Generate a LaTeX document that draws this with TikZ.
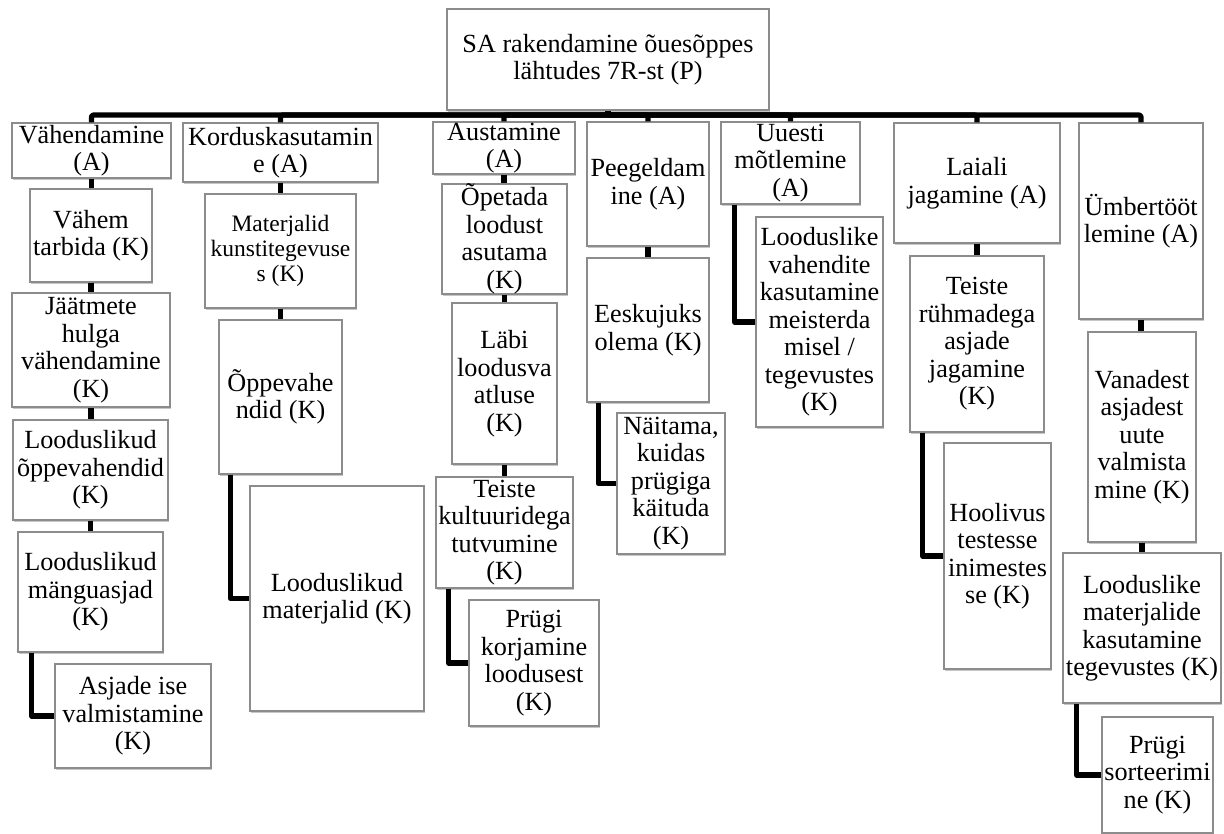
\documentclass[tikz,border=0pt]{standalone}
\usepackage{fontspec}
\setmainfont{Liberation Serif}
\usetikzlibrary{shadows}
\tikzset{
  bx/.style={draw=black!45, line width=1.1pt, fill=white, rectangle, inner sep=0pt, align=center,
    font=\fontsize{26.2}{27.5}\selectfont,
    drop shadow={shadow xshift=1.2pt, shadow yshift=-1.6pt, fill=black, opacity=0.22}},
  conn/.style={line width=5.2pt, black, line join=round, line cap=round},
}
\begin{document}
\begin{tikzpicture}[x=1pt,y=-1pt]
\clip (0,0) rectangle (1224,833);
\fill[white] (0,0) rectangle (1224,833);
\coordinate (bus) at (608,115);
% boxes
\node[bx, minimum width=322pt, minimum height=101pt] (top) at (608,59.5) {SA rakendamine õuesõppes\\lähtudes 7R-st (P)};
% column 1
\node[bx, minimum width=159pt, minimum height=55pt] (a1) at (91.5,150.5) {Vähendamine\\(A)};
\node[bx, minimum width=122pt, minimum height=93pt] (k11) at (91,235.5) {Vähem\\tarbida (K)};
\node[bx, minimum width=158pt, minimum height=114pt] (k12) at (91,350) {Jäätmete\\hulga\\vähendamine\\(K)};
\node[bx, minimum width=155pt, minimum height=100pt] (k13) at (90.5,470) {Looduslikud\\õppevahendid\\(K)};
\node[bx, minimum width=145pt, minimum height=120pt] (k14) at (90.5,592) {Looduslikud\\mänguasjad\\(K)};
\node[bx, minimum width=156pt, minimum height=104pt] (k15) at (133,716) {Asjade ise\\valmistamine\\(K)};
% column 2
\node[bx, minimum width=195pt, minimum height=59pt] (a2) at (280.5,152.5) {Korduskasutamin\\e (A)};
\node[bx, minimum width=151pt, minimum height=114pt, font=\fontsize{23.5}{24.8}\selectfont] (k21) at (280.5,251) {Materjalid\\kunstitegevuse\\s (K)};
\node[bx, minimum width=123pt, minimum height=154pt] (k22) at (280.5,397) {Õppevahe\\ndid (K)};
\node[bx, minimum width=174pt, minimum height=225pt] (k23) at (337,598.5) {Looduslikud\\materjalid (K)};
% column 3
\node[bx, minimum width=142pt, minimum height=52pt] (a3) at (504,148) {Austamine\\(A)};
\node[bx, minimum width=125pt, minimum height=104pt] (k31) at (504.5,239) {Õpetada\\loodust\\asutama\\(K)};
\node[bx, minimum width=105pt, minimum height=161pt] (k32) at (504.5,383.5) {Läbi\\loodusva\\atluse\\(K)};
\node[bx, minimum width=137pt, minimum height=111pt] (k33) at (504.5,532.5) {Teiste\\kultuuridega\\tutvumine\\(K)};
\node[bx, minimum width=130pt, minimum height=126pt] (k34) at (534,663) {Prügi\\korjamine\\loodusest\\(K)};
% column 4
\node[bx, minimum width=122pt, minimum height=124pt] (a4) at (648,184) {Peegeldam\\ine (A)};
\node[bx, minimum width=122pt, minimum height=144pt] (k41) at (648,330) {Eeskujuks\\olema (K)};
\node[bx, minimum width=108pt, minimum height=141pt] (k42) at (671,483.5) {Näitama,\\kuidas\\prügiga\\käituda\\(K)};
% column 5
\node[bx, minimum width=139pt, minimum height=82pt] (a5) at (790.5,163) {Uuesti\\mõtlemine\\(A)};
\node[bx, minimum width=127pt, minimum height=210pt] (k51) at (819.5,322) {Looduslike\\vahendite\\kasutamine\\meisterda\\misel /\\tegevustes\\(K)};
% column 6
\node[bx, minimum width=166pt, minimum height=120pt] (a6) at (977,183) {Laiali\\jagamine (A)};
\node[bx, minimum width=134pt, minimum height=176pt] (k61) at (977,344) {Teiste\\rühmadega\\asjade\\jagamine\\(K)};
\node[bx, minimum width=107pt, minimum height=226pt] (k62) at (997.5,556) {Hoolivus\\testesse\\inimestes\\se (K)};
% column 7
\node[bx, minimum width=124pt, minimum height=196pt] (a7) at (1141,221) {Ümbertööt\\lemine (A)};
\node[bx, minimum width=108pt, minimum height=210pt] (k71) at (1142,437) {Vanadest\\asjadest\\uute\\valmista\\mine (K)};
\node[bx, minimum width=158pt, minimum height=150pt] (k72) at (1142,628) {Looduslike\\materjalide\\kasutamine\\tegevustes (K)};
\node[bx, minimum width=111pt, minimum height=116pt] (k73) at (1157.5,775) {Prügi\\sorteerimi\\ne (K)};
% bus
\draw[conn, line cap=butt] (top.south) -- (bus);
\foreach \a in {a1,a2,a3,a4,a5,a6,a7}{
  \draw[conn, line cap=butt, rounded corners=2pt] (bus) -| (\a.north);
}
% vertical chains
\foreach \p/\c in {a1/k11,k11/k12,k12/k13,k13/k14,a2/k21,k21/k22,a3/k31,k31/k32,k32/k33,a4/k41,a6/k61,a7/k71,k71/k72}{
  \draw[conn, line cap=butt] (\p.south) -- (\p.south |- \c.north);
}
% elbows
\draw[conn, line cap=butt] ([xshift=14pt]k14.south west) |- (k15.west);
\draw[conn, line cap=butt] ([xshift=12pt]k22.south west) |- (k23.west);
\draw[conn, line cap=butt] ([xshift=13pt]k33.south west) |- (k34.west);
\draw[conn, line cap=butt] ([xshift=12pt]k41.south west) |- (k42.west);
\draw[conn, line cap=butt] ([xshift=14pt]a5.south west) |- (k51.west);
\draw[conn, line cap=butt] ([xshift=13pt]k61.south west) |- (k62.west);
\draw[conn, line cap=butt] ([xshift=14pt]k72.south west) |- (k73.west);
\end{tikzpicture}
\end{document}
